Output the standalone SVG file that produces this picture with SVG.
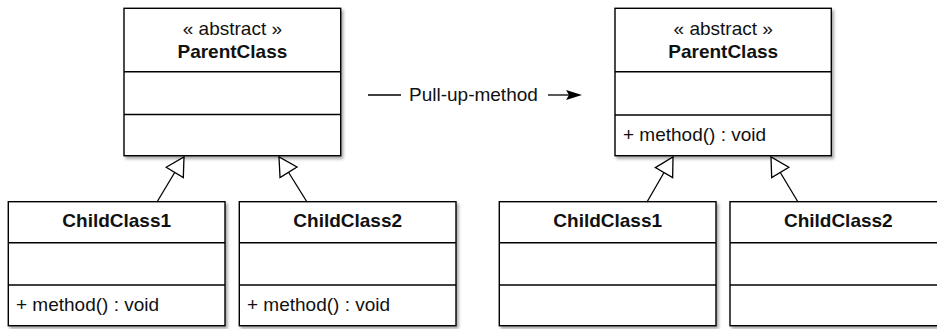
<svg xmlns="http://www.w3.org/2000/svg" width="937" height="329" viewBox="0 0 937 329">
<defs>
<filter id="sh" x="-10%" y="-10%" width="130%" height="130%">
<feDropShadow dx="2" dy="2.5" stdDeviation="1.5" flood-color="#000" flood-opacity="0.35"/>
</filter>
<marker id="gen" markerWidth="22" markerHeight="26" refX="19" refY="11" orient="auto" markerUnits="userSpaceOnUse">
<path d="M1,1 L19,11 L1,21 Z" fill="#fff" stroke="#000" stroke-width="1.3"/>
</marker>
</defs>
<style>
.box{fill:#fff;stroke:#000;stroke-width:1.4}
.div{stroke:#000;stroke-width:1.4}
.t{font-family:"Liberation Sans",Arial,sans-serif;font-size:19px;fill:#111}
.b{font-weight:bold}
.m{text-anchor:middle}
.ln{stroke:#000;stroke-width:1.3;fill:none}
</style>
<rect width="937" height="329" fill="#fff"/>

<g id="parent-left">
<rect class="box" x="124" y="8.3" width="216.7" height="147.4" filter="url(#sh)"/>
<line class="div" x1="124" y1="71.7" x2="340.7" y2="71.7"/>
<line class="div" x1="124" y1="114.5" x2="340.7" y2="114.5"/>
<text class="t m" x="232.4" y="35">« abstract »</text>
<text class="t m b" x="232.4" y="57.5">ParentClass</text>
</g>

<g id="child1-left">
<rect class="box" x="8.3" y="201.7" width="216.7" height="124" filter="url(#sh)"/>
<line class="div" x1="8.3" y1="242.7" x2="225" y2="242.7"/>
<line class="div" x1="8.3" y1="285" x2="225" y2="285"/>
<text class="t m b" x="116.7" y="227.3">ChildClass1</text>
<text class="t" x="16" y="311">+ method() : void</text>
</g>

<g id="child2-left">
<rect class="box" x="239.3" y="201.7" width="216.7" height="124" filter="url(#sh)"/>
<line class="div" x1="239.3" y1="242.7" x2="456" y2="242.7"/>
<line class="div" x1="239.3" y1="285" x2="456" y2="285"/>
<text class="t m b" x="347.7" y="227.3">ChildClass2</text>
<text class="t" x="247" y="311">+ method() : void</text>
</g>

<g id="parent-right">
<rect class="box" x="615" y="8.3" width="216.3" height="147.4" filter="url(#sh)"/>
<line class="div" x1="615" y1="71.7" x2="831.3" y2="71.7"/>
<line class="div" x1="615" y1="115" x2="831.3" y2="115"/>
<text class="t m" x="723.2" y="35">« abstract »</text>
<text class="t m b" x="723.2" y="57.5">ParentClass</text>
<text class="t" x="623" y="140.7">+ method() : void</text>
</g>

<g id="child1-right">
<rect class="box" x="499.3" y="201.7" width="216.7" height="124" filter="url(#sh)"/>
<line class="div" x1="499.3" y1="242.7" x2="716" y2="242.7"/>
<line class="div" x1="499.3" y1="285" x2="716" y2="285"/>
<text class="t m b" x="607.7" y="227.3">ChildClass1</text>
</g>

<g id="child2-right">
<rect class="box" x="730" y="201.7" width="216.7" height="124" filter="url(#sh)"/>
<line class="div" x1="730" y1="242.7" x2="946.7" y2="242.7"/>
<line class="div" x1="730" y1="285" x2="946.7" y2="285"/>
<text class="t m b" x="838.3" y="227.3">ChildClass2</text>
</g>

<g id="connectors">
<line class="ln" x1="157" y1="202" x2="184" y2="157" marker-end="url(#gen)"/>
<line class="ln" x1="307" y1="202" x2="279" y2="157" marker-end="url(#gen)"/>
<line class="ln" x1="647" y1="202" x2="673" y2="157" marker-end="url(#gen)"/>
<line class="ln" x1="798" y1="202" x2="771" y2="157" marker-end="url(#gen)"/>
</g>

<g id="transition">
<line class="ln" x1="368" y1="95" x2="401" y2="95"/>
<text class="t" x="409" y="100.5">Pull-up-method</text>
<line class="ln" x1="548" y1="95" x2="570" y2="95"/>
<path d="M582,95 L566,90 L569,95 L566,100 Z" fill="#000"/>
</g>
</svg>
